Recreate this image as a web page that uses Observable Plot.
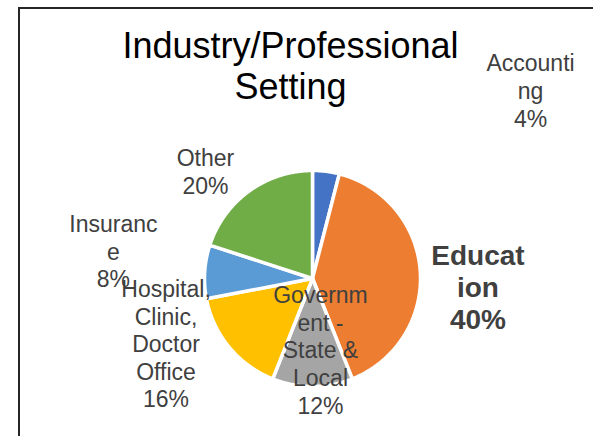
<!DOCTYPE html>
<html><head><meta charset="utf-8">
<script src="https://cdn.jsdelivr.net/npm/d3@7"></script>
<script src="https://cdn.jsdelivr.net/npm/@observablehq/plot@0.6"></script>
<style>
body{margin:0;background:#fff;}
#wrap{position:relative;width:593px;height:436px;overflow:hidden;}
#chart{position:absolute;left:0;top:0;}
#border{position:absolute;left:18px;top:7px;width:700px;height:700px;border-left:2px solid #262626;border-top:2px solid #262626;z-index:2;pointer-events:none;}
</style></head><body>
<div id="wrap"><div id="chart"></div><div id="border"></div></div>
<script>
// ---- data ----
const categories = ["Accounting", "Education", "Government - State & Local", "Hospital, Clinic, Doctor Office", "Insurance", "Other"];
const values = [4, 40, 12, 16, 8, 20];
const labelNames = ["Accounti\nng", "Educat\nion", "Governm\nent -\nState &\nLocal", "Hospital,\nClinic,\nDoctor\nOffice", "Insuranc\ne", "Other"];
const titleText = "Industry/Professional\nSetting";

// ---- styles / layout ----
const colors = ["#4472C4", "#ED7D31", "#A5A5A5", "#FFC000", "#5B9BD5", "#70AD47"];
const W = 593, H = 436, cx = 312, cy = 278, R = 108;
const labelLayout = [[2.019, 1.407], [1.532, -0.463], [0.074, -1.250], [-1.356, -1.194], [-1.843, -0.083], [-0.991, 0.787]];
const boldLabel = "Education";
const font = "Liberation Sans, Arial, sans-serif";

const rows = categories.map((name, i) => ({name, value: values[i], i}));
const total = d3.sum(values);
const arcs = d3.pie().sort(null).value(d => d.value)(rows);

const pts = [];
for (const a of arcs) {
  const name = a.data.name;
  pts.push({name, x: 0, y: 0});
  const n = Math.max(2, Math.ceil((a.endAngle - a.startAngle) / 0.01));
  for (let k = 0; k <= n; ++k) {
    const t = a.startAngle + (a.endAngle - a.startAngle) * k / n;
    pts.push({name, x: Math.sin(t), y: Math.cos(t)});
  }
}

const labels = rows.map((d, i) => ({
  name: d.name,
  label: labelNames[i] + "\n" + Math.round(d.value / total * 100) + "%",
  lx: labelLayout[i][0],
  ly: labelLayout[i][1]
}));

const chart = Plot.plot({
  width: W, height: H, margin: 0,
  style: {fontFamily: font, background: "transparent"},
  x: {domain: [-cx / R, (W - cx) / R], axis: null},
  y: {domain: [(cy - H) / R, cy / R], axis: null},
  color: {domain: categories, range: colors},
  marks: [
    Plot.line(pts, {x: "x", y: "y", z: "name", fill: "name", stroke: "white", strokeWidth: 3.5, strokeLinejoin: "round", curve: "linear-closed"}),
    Plot.text(labels.filter(d => d.name !== boldLabel), {x: "lx", y: "ly", text: "label", fontSize: 23, lineHeight: 1.2, lineAnchor: "bottom", fill: "#404040"}),
    Plot.text(labels.filter(d => d.name === boldLabel), {x: "lx", y: "ly", text: "label", fontSize: 28, fontWeight: "bold", lineHeight: 1.13, lineAnchor: "bottom", fill: "#404040"}),
    Plot.text([titleText], {frameAnchor: "top", text: d => d, dx: -6.5, dy: 98, lineAnchor: "bottom", fontSize: 36, lineHeight: 41 / 36, fill: "#000"})
  ]
});
document.getElementById("chart").appendChild(chart);
</script>
</body></html>
